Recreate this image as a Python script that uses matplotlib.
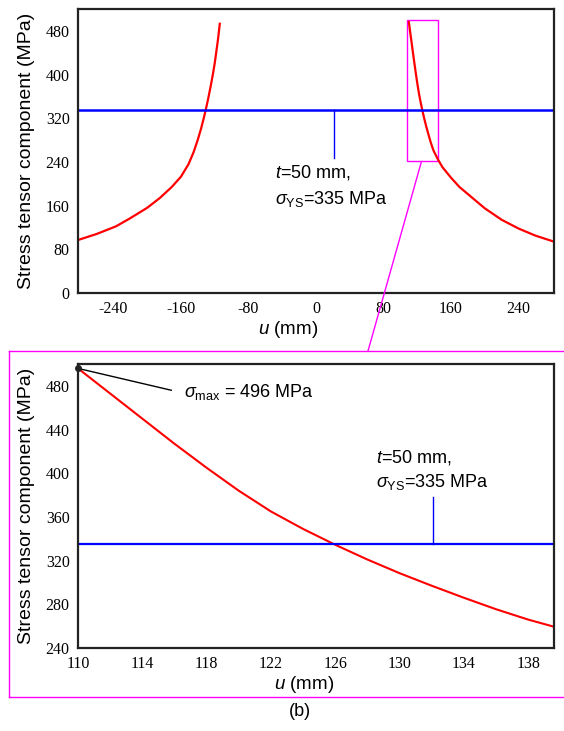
import numpy as np
import matplotlib
matplotlib.use("Agg")
import matplotlib.pyplot as plt
from matplotlib.lines import Line2D
from matplotlib.patches import Rectangle, ConnectionPatch

plt.rcParams['font.family'] = 'Liberation Sans'
plt.rcParams['mathtext.fontset'] = 'custom'
plt.rcParams['mathtext.rm'] = 'Liberation Sans'
plt.rcParams['mathtext.it'] = 'Liberation Sans:italic'

# stress along u
u_left = [-282, -260, -237, -220, -200, -185, -171, -160, -151, -145, -140, -136, -133,
          -130, -128, -125, -122, -120, -118, -116, -114]
s_left = [97, 108, 122, 137, 156, 174, 194, 213, 236, 258, 281, 302, 320,
          340, 354, 377, 402, 421, 443, 466, 493]

u_zoom = [110, 112, 114, 116, 118, 120, 122, 124, 126, 128, 130, 132, 134, 136, 138, 139.6]
s_zoom = [496, 473, 450, 427, 405, 384, 365, 349, 334.5, 321, 308.5, 297, 286, 275.5, 266, 259.5]

u_far = [145, 150, 160, 170, 180, 200, 220, 240, 260, 282]
s_far = [243, 230, 211, 194, 181, 155, 134, 118, 105, 94]

u_right = u_zoom + u_far
s_right = s_zoom + s_far

sigma_ys = 335
sigma_max = 496

xt_top = [-240, -160, -80, 0, 80, 160, 240]
yt_top = [0, 80, 160, 240, 320, 400, 480]
xt_bot = [110, 114, 118, 122, 126, 130, 134, 138]
yt_bot = [240, 280, 320, 360, 400, 440, 480]

fig = plt.figure(figsize=(5.64, 7.31), dpi=100)
ax1 = fig.add_axes([0.1383, 0.5992, 0.844, 0.3885])
ax2 = fig.add_axes([0.1383, 0.1135, 0.844, 0.3885])

serif = 'Liberation Serif'
for ax in (ax1, ax2):
    for sp in ax.spines.values():
        sp.set_linewidth(1.6)
        sp.set_color('#222222')
    ax.tick_params(length=0, labelsize=11.5, pad=6)
    ax.set_ylabel('Stress tensor component (MPa)', fontsize=14)
    ax.yaxis.set_label_coords(-0.09, 0.5)

# top panel
ax1.plot(u_left, s_left, color='#ff0000', lw=1.6)
ax1.plot(u_right, s_right, color='#ff0000', lw=1.6)
ax1.axhline(sigma_ys, color='#0000ff', lw=1.8)
ax1.plot([21, 21], [sigma_ys, 248], color='#0000ff', lw=1)
ax1.text(-49, 220, '$t$=50 mm,', fontsize=13, va='center')
ax1.text(-49, 173, r'$\sigma_{\mathrm{YS}}$=335 MPa', fontsize=13, va='center')
ax1.add_patch(Rectangle((107.5, 241), 36.5, 259, fill=False, ec='#ff00ff', lw=1))
ax1.set_xlim(-282, 282)
ax1.set_ylim(0, 520)
ax1.set_xticks(xt_top)
ax1.set_xticklabels([str(v) for v in xt_top], family=serif)
ax1.set_yticks(yt_top)
ax1.set_yticklabels([str(v) for v in yt_top], family=serif)
ax1.text(0.441, -0.13, '$u$ (mm)', transform=ax1.transAxes, fontsize=13.5,
         ha='center', va='center')

# bottom panel (zoom)
ax2.plot(u_zoom, s_zoom, color='#ff0000', lw=1.5)
ax2.axhline(sigma_ys, color='#0000ff', lw=1.6)
ax2.plot([132.1, 132.1], [sigma_ys, 378], color='#0000ff', lw=1)
ax2.text(128.5, 414, '$t$=50 mm,', fontsize=13, va='center')
ax2.text(128.5, 392, r'$\sigma_{\mathrm{YS}}$=335 MPa', fontsize=13, va='center')
ax2.plot([110], [sigma_max], 'o', color='#222222', ms=4, clip_on=False, zorder=5)
ax2.plot([110, 115.8], [sigma_max, 476], color='black', lw=1, clip_on=False)
ax2.text(116.6, 474, r'$\sigma_{\mathrm{max}}$ = 496 MPa', fontsize=13, va='center')
ax2.set_xlim(110, 139.6)
ax2.set_ylim(240, 500)
ax2.set_xticks(xt_bot)
ax2.set_xticklabels([str(v) for v in xt_bot], family=serif)
ax2.set_yticks(yt_bot)
ax2.set_yticklabels([str(v) for v in yt_bot], family=serif)
ax2.text(0.475, -0.13, '$u$ (mm)', transform=ax2.transAxes, fontsize=13.5,
         ha='center', va='center')

# magenta frame round the zoom panel and the connector
mg = '#ff00ff'
fx0, fy0, fy1 = 9 / 564, 1 - 697 / 731, 1 - 351 / 731
fig.add_artist(Line2D([fx0, 1.0], [fy1, fy1], color=mg, lw=1, transform=fig.transFigure))
fig.add_artist(Line2D([fx0, 1.0], [fy0, fy0], color=mg, lw=1, transform=fig.transFigure))
fig.add_artist(Line2D([fx0, fx0], [fy0, fy1], color=mg, lw=1, transform=fig.transFigure))
con = ConnectionPatch(xyA=(125, 241), coordsA=ax1.transData,
                      xyB=(368 / 564, fy1), coordsB=fig.transFigure,
                      color=mg, lw=1)
fig.add_artist(con)

fig.text(300 / 564, 1 - 712 / 731, '(b)', fontsize=13, ha='center', va='center')

fig.savefig('out.png', dpi=100)
